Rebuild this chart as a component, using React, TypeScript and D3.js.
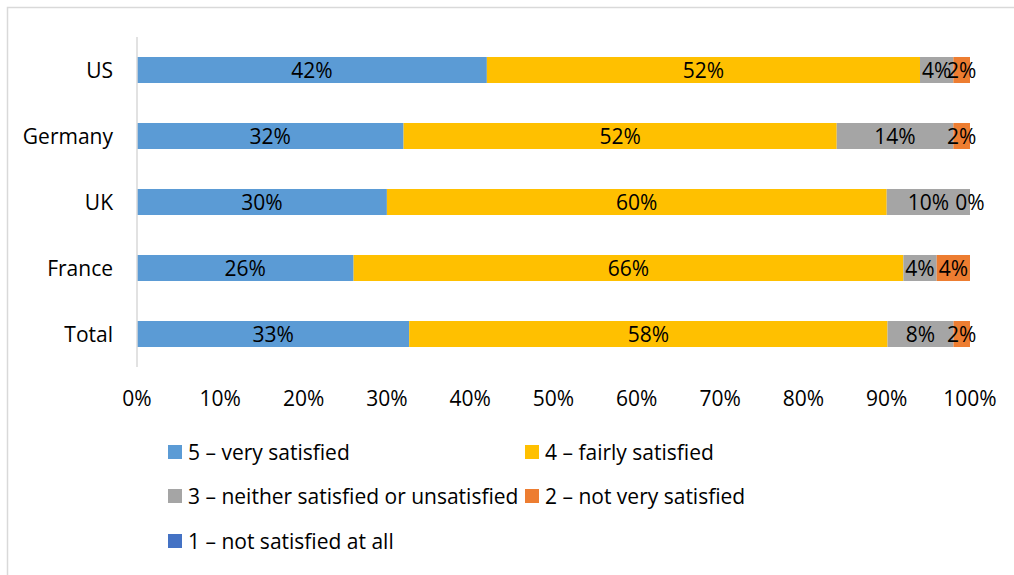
import { useEffect, useRef } from "react";
import * as d3 from "d3";

// categories, top to bottom
const countries = ["US", "Germany", "UK", "France", "Total"];

// answer shares per country (percent, as labelled)
const verySatisfied = [42, 32, 30, 26, 33];
const fairlySatisfied = [52, 52, 60, 66, 58];
const neither = [4, 14, 10, 4, 8];
const notVery = [2, 2, 0, 4, 2];
const notAtAll = [0, 0, 0, 0, 0];

const seriesNames = [
    "5 – very satisfied",
    "4 – fairly satisfied",
    "3 – neither satisfied or unsatisfied",
    "2 – not very satisfied",
    "1 – not satisfied at all",
];
const seriesColors = ["#5B9BD5", "#FFC000", "#A5A5A5", "#ED7D31", "#4472C4"];
const showLabels = [true, true, true, true, false];

const xTicks = [0, 0.1, 0.2, 0.3, 0.4, 0.5, 0.6, 0.7, 0.8, 0.9, 1];

const W = 1014;
const H = 575;
const FONT = "'Open Sans', sans-serif";
const FS = 21;

export default function App() {
    const svgRef = useRef<SVGSVGElement>(null);

    useEffect(() => {
        const svg = d3.select(svgRef.current);
        svg.selectAll("*").remove();

        const keys = ["s5", "s4", "s3", "s2", "s1"];
        const cols = [verySatisfied, fairlySatisfied, neither, notVery, notAtAll];
        const table = countries.map((c, i) => {
            const row: any = { country: c };
            keys.forEach((k, j) => { row[k] = cols[j][i]; });
            return row;
        });

        const stacked = d3.stack().keys(keys).offset(d3.stackOffsetExpand)(table);

        // chart frame
        svg.append("rect")
            .attr("x", 7.5).attr("y", 7.5)
            .attr("width", W).attr("height", H)
            .attr("fill", "white")
            .attr("stroke", "#d9d9d9")
            .attr("stroke-width", 1.5);

        const x = d3.scaleLinear().domain([0, 1]).range([137, 970]);
        const y = d3.scaleBand().domain(countries).range([37, 367]).paddingInner(0.606).paddingOuter(0.303);

        // bars
        stacked.forEach((s, j) => {
            svg.append("g")
                .attr("fill", seriesColors[j])
                .selectAll("rect")
                .data(s)
                .join("rect")
                .attr("x", (d) => x(d[0]))
                .attr("y", (d: any) => y(d.data.country))
                .attr("width", (d) => x(d[1]) - x(d[0]))
                .attr("height", y.bandwidth());
        });

        // vertical axis line
        svg.append("line")
            .attr("x1", x(0)).attr("x2", x(0))
            .attr("y1", 37).attr("y2", 367)
            .attr("stroke", "#d9d9d9")
            .attr("stroke-width", 1.5);

        // data labels
        stacked.forEach((s, j) => {
            if (!showLabels[j]) return;
            svg.append("g")
                .selectAll("text")
                .data(s)
                .join("text")
                .attr("x", (d) => (x(d[0]) + x(d[1])) / 2)
                .attr("y", (d: any) => y(d.data.country) + y.bandwidth() / 2)
                .attr("dy", "0.36em")
                .attr("text-anchor", "middle")
                .attr("font-family", FONT)
                .attr("font-size", FS)
                .attr("fill", "#000")
                .text((d: any) => d.data[keys[j]] + "%");
        });

        // category labels
        svg.append("g")
            .selectAll("text")
            .data(countries)
            .join("text")
            .attr("x", 113)
            .attr("y", (d) => y(d) + y.bandwidth() / 2)
            .attr("dy", "0.36em")
            .attr("text-anchor", "end")
            .attr("font-family", FONT)
            .attr("font-size", FS)
            .attr("fill", "#000")
            .text((d) => d);

        // x tick labels
        svg.append("g")
            .selectAll("text")
            .data(xTicks)
            .join("text")
            .attr("x", (d) => x(d))
            .attr("y", 406)
            .attr("text-anchor", "middle")
            .attr("font-family", FONT)
            .attr("font-size", FS)
            .attr("fill", "#000")
            .text((d) => d3.format(".0%")(d));

        // legend
        const legendPos = [
            [168, 452], [525, 452],
            [168, 496], [525, 496],
            [168, 541],
        ];
        const lg = svg.append("g")
            .selectAll("g")
            .data(seriesNames)
            .join("g")
            .attr("transform", (d, i) => `translate(${legendPos[i][0]},${legendPos[i][1]})`);
        lg.append("rect")
            .attr("x", 0).attr("y", -7)
            .attr("width", 14).attr("height", 14)
            .attr("fill", (d, i) => seriesColors[i]);
        lg.append("text")
            .attr("x", 20)
            .attr("dy", "0.36em")
            .attr("font-family", FONT)
            .attr("font-size", FS)
            .attr("fill", "#000")
            .text((d) => d);
    }, []);

    return (
        <svg ref={svgRef} width={W} height={H}
            style={{ position: "absolute", left: 0, top: 0, display: "block" }}></svg>
    );
}
